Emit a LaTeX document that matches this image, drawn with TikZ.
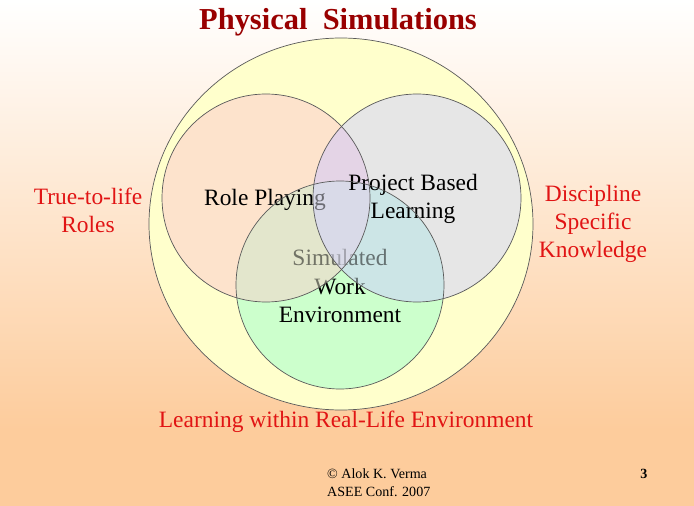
\documentclass[tikz,border=0pt]{standalone}
\usepackage{fontspec}
\setmainfont{Liberation Serif}
\usepackage{tikz}

\definecolor{bgpeach}{RGB}{253,204,156}
\definecolor{bigfill}{RGB}{255,255,204}
\definecolor{rolefill}{RGB}{253,227,204}
\definecolor{projfill}{RGB}{230,230,230}
\definecolor{simfill}{RGB}{204,255,204}
\definecolor{roleproj}{RGB}{228,212,230}
\definecolor{rolesim}{RGB}{227,230,204}
\definecolor{projsim}{RGB}{204,229,230}
\definecolor{allthree}{RGB}{217,218,232}
\definecolor{ringline}{RGB}{90,90,90}
\definecolor{titlered}{RGB}{153,0,0}
\definecolor{labelred}{RGB}{225,20,20}

\begin{document}
\begin{tikzpicture}
      [%%%%%%%%%%%%%%%%%%%%%%%%%%%%%%
      x=0.03cm,y=-0.03cm,
      ring/.style={draw=ringline,line width=0.6pt},
      veil/.style={transparency group,opacity=0.5},
      inner/.style={font=\fontsize{20}{24}\selectfont,align=center,inner sep=0pt},
      outer/.style={inner,text=labelred},
      foot/.style={font=\fontsize{12}{15.4}\selectfont,align=left,inner sep=0pt},
      ]%%%%%%%%%%%%%%%%%%%%%%%%%%%%%%

      \useasboundingbox (0,0) rectangle (694,506);
      \shade[top color=white,bottom color=bgpeach] (0,0) rectangle (694,430);
      \fill[bgpeach] (0,429) rectangle (694,506);

      \coordinate (big) at (341,224);
      \coordinate (rp) at (266,198);
      \coordinate (pb) at (417,198);
      \coordinate (sw) at (340,285);

      % circles
      \fill[bigfill] (big) ellipse [x radius=192,y radius=186];
      \fill[rolefill] (rp) circle [radius=104];
      \fill[projfill] (pb) circle [radius=104];
      \fill[simfill] (sw) circle [radius=104];
      \begin{scope}
        \clip (rp) circle [radius=104];
        \fill[roleproj] (pb) circle [radius=104];
        \fill[rolesim] (sw) circle [radius=104];
        \clip (pb) circle [radius=104];
        \fill[allthree] (sw) circle [radius=104];
      \end{scope}
      \begin{scope}
        \clip (pb) circle [radius=104];
        \fill[projsim] (sw) circle [radius=104];
        \clip (rp) circle [radius=104];
        \fill[allthree] (sw) circle [radius=104];
      \end{scope}

      % texts inside, each circle laid over the text before it
      \node[inner] (simwork) at (340,286) {Simulated\\Work\\Environment};
      \begin{scope}[veil]
        \clip (rp) circle [radius=104];
        \fill[rolefill] (rp) circle [radius=104];
        \fill[roleproj] (pb) circle [radius=104];
        \fill[rolesim] (sw) circle [radius=104];
        \clip (pb) circle [radius=104];
        \fill[allthree] (sw) circle [radius=104];
      \end{scope}
      \node[inner] (role) at (265,200) {Role Playing};
      \begin{scope}[veil]
        \clip (pb) circle [radius=104];
        \fill[projfill] (pb) circle [radius=104];
        \fill[roleproj] (rp) circle [radius=104];
        \fill[projsim] (sw) circle [radius=104];
        \clip (rp) circle [radius=104];
        \fill[allthree] (sw) circle [radius=104];
      \end{scope}
      \node[inner] (proj) at (413,199) {Project Based\\Learning};

      % outlines
      \draw[ring] (big) ellipse [x radius=192,y radius=186];
      \draw[ring] (rp) circle [radius=104];
      \draw[ring] (pb) circle [radius=104];
      \draw[ring] (sw) circle [radius=104];

      % texts outside
      \node[inner,text=titlered,font=\fontsize{26}{30}\selectfont\bfseries] (title) at (338,22) {Physical\ \ Simulations};
      \node[outer] (truelife) at (88,210) {True-to-life\\Roles};
      \node[outer] (discipline) at (593,224) {Discipline\\Specific\\Knowledge};
      \node[outer] (reallife) at (346,422) {Learning within Real-Life Environment};
      \node[foot,anchor=west] (author) at (327,483) {© Alok K. Verma\\ASEE Conf. 2007};
      \node[foot,font=\fontsize{12}{15.4}\selectfont\bfseries] (page) at (644,474) {3};
    \end{tikzpicture}
\end{document}
